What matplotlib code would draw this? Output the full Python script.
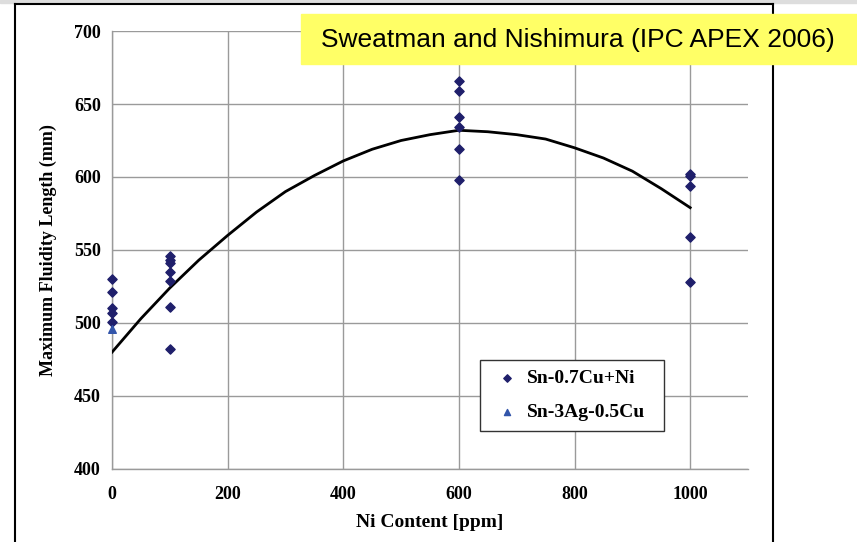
import matplotlib.pyplot as plt
from matplotlib.lines import Line2D
from matplotlib.patches import Rectangle

# data
ni_sncuni = [0, 0, 0, 0, 0,
             100, 100, 100, 100, 100, 100, 100,
             600, 600, 600, 600, 600, 600,
             1000, 1000, 1000, 1000, 1000]
len_sncuni = [530, 521, 510, 507, 501,
              546, 543, 541, 535, 529, 511, 482,
              666, 659, 641, 634, 619, 598,
              602, 601, 594, 559, 528]

ni_sac = [0]
len_sac = [496]

curve_x = [0, 50, 100, 150, 200, 250, 300, 350, 400, 450, 500,
           550, 600, 650, 700, 750, 800, 850, 900, 950, 1000]
curve_y = [480, 503, 524, 543, 560, 576, 590, 601, 611, 619, 625,
           629, 632, 631, 629, 626, 620, 613, 604, 592, 579]

x_ticks = [0, 200, 400, 600, 800, 1000]
y_ticks = [400, 450, 500, 550, 600, 650, 700]

serif = ['Liberation Serif', 'DejaVu Serif']

fig = plt.figure(figsize=(8.57, 5.42), dpi=100)
ax = fig.add_axes([0.1307, 0.1347, 0.7421, 0.8081])

ax.set_xlim(0, 1100)
ax.set_ylim(400, 700)
ax.set_xticks(x_ticks)
ax.set_yticks(y_ticks)
ax.grid(True, color='#9a9a9a', linewidth=1.0)
ax.set_axisbelow(True)
for s in ['top', 'right']:
    ax.spines[s].set_visible(False)
for s in ['left', 'bottom']:
    ax.spines[s].set_color('#9a9a9a')
    ax.spines[s].set_linewidth(1.0)
ax.tick_params(length=0)
ax.tick_params(axis='x', pad=12)
ax.tick_params(axis='y', pad=8)
for lab in ax.get_xticklabels() + ax.get_yticklabels():
    lab.set_fontfamily(serif)
    lab.set_fontweight('bold')
    lab.set_fontsize(13)

ax.plot(curve_x, curve_y, color='black', linewidth=2, zorder=3)
ax.scatter(ni_sncuni, len_sncuni, marker='D', s=22, color='#1f1f6b',
           zorder=4, clip_on=False, label='Sn-0.7Cu+Ni')
ax.scatter(ni_sac, len_sac, marker='^', s=30, color='#3355aa',
           zorder=4, clip_on=False, label='Sn-3Ag-0.5Cu')

ax.set_xlabel('Ni Content [ppm]', fontfamily=serif, fontweight='bold',
              fontsize=14, labelpad=8)
ax.set_ylabel('Maximum Fluidity Length (mm)', fontfamily=serif,
              fontweight='bold', fontsize=13, labelpad=12)

leg = ax.legend(loc='upper left', bbox_to_anchor=(0.5786, 0.1489, 0.2893, 0.1),
                mode='expand', borderaxespad=0,
                frameon=True, fancybox=False, framealpha=1,
                edgecolor='#333333', borderpad=0.5, labelspacing=0.85,
                handletextpad=0.1, handlelength=1.8, markerscale=0.8,
                prop={'family': serif, 'weight': 'bold', 'size': 14})
leg.get_frame().set_linewidth(1.0)

# outer frame of the slide
fig.patches.append(Rectangle((0, 1 - 3 / 542), 1, 3 / 542,
                             transform=fig.transFigure, color='#dddddd'))
fig.lines.append(Line2D([15.5 / 857, 15.5 / 857], [0, 1 - 4 / 542],
                        transform=fig.transFigure, color='black', lw=1.5))
fig.lines.append(Line2D([773 / 857, 773 / 857], [0, 1 - 4 / 542],
                        transform=fig.transFigure, color='black', lw=1.5))
fig.lines.append(Line2D([15.5 / 857, 773 / 857], [1 - 4 / 542, 1 - 4 / 542],
                        transform=fig.transFigure, color='black', lw=1.5))

# yellow title box
fig.patches.append(Rectangle((301 / 857, 1 - 64 / 542), 556 / 857, 50 / 542,
                             transform=fig.transFigure, color='#ffff66',
                             zorder=5))
fig.text(578 / 857, 1 - 40 / 542, 'Sweatman and Nishimura (IPC APEX 2006)',
         fontfamily='Liberation Sans', fontsize=19, ha='center', va='center',
         zorder=6)

fig.savefig('out.png', dpi=100)
